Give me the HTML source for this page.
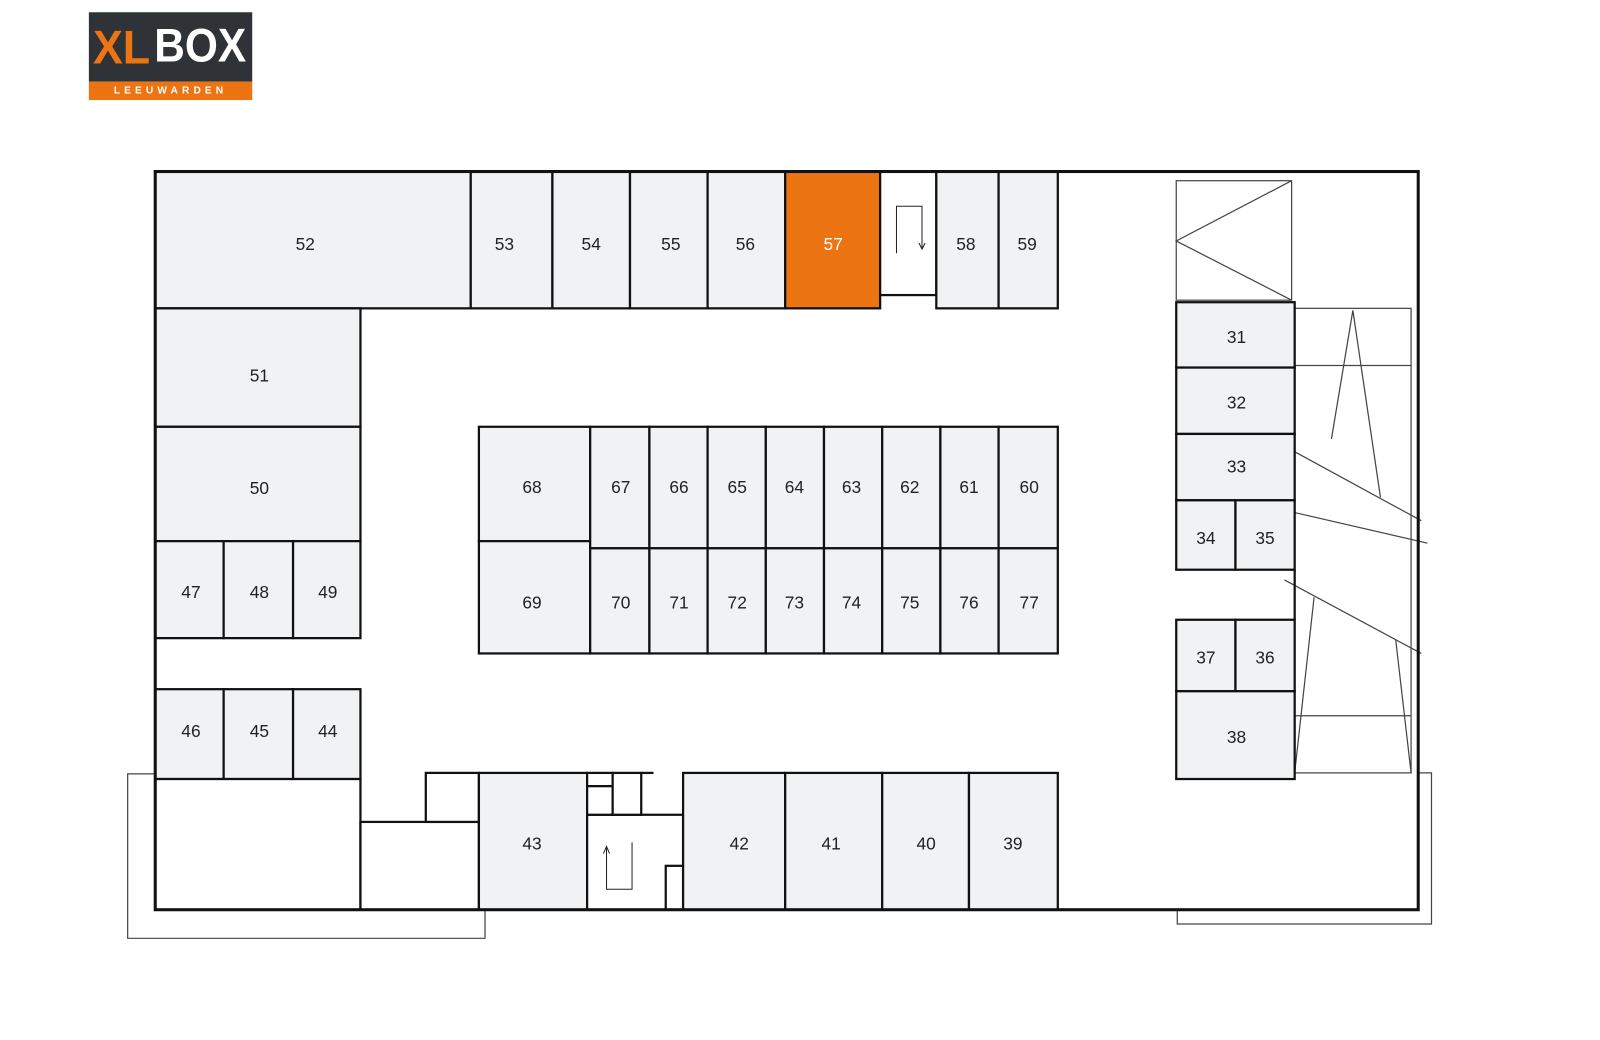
<!DOCTYPE html>
<html><head><meta charset="utf-8"><style>
html,body{margin:0;padding:0;background:#fff;width:1600px;height:1040px;overflow:hidden}
text{font-family:"Liberation Sans",sans-serif;font-size:17px;fill:#222;text-anchor:middle;dominant-baseline:central}
</style></head><body>
<svg width="1600" height="1040" viewBox="0 0 1567 1018.6" xmlns="http://www.w3.org/2000/svg">
<!-- logo -->
<rect x="87" y="12" width="160" height="68" fill="#2f3337"/>
<rect x="87" y="80" width="160" height="18" fill="#ec7412"/>
<text x="119" y="46" textLength="56" lengthAdjust="spacingAndGlyphs" style="font-size:46px;font-weight:bold;fill:#ec7412">XL</text>
<text x="196" y="44" textLength="90" lengthAdjust="spacingAndGlyphs" style="font-size:46px;font-weight:bold;fill:#fff">BOX</text>
<text x="167" y="89" style="font-size:10px;font-weight:bold;fill:#fff;letter-spacing:4px">LEEUWARDEN</text>

<g fill="none" stroke="#444" stroke-width="1.2">
<polyline points="152,758 125,758 125,919 475,919 475,891"/>
<polyline points="1389,757 1402,757 1402,905 1153,905 1153,891"/>
<rect x="1152" y="177" width="113" height="117"/>
<polyline points="1265,177 1152,236 1265,294"/>
<rect x="1268" y="302" width="114" height="455"/>
<line x1="1268" y1="358" x2="1382" y2="358"/>
<line x1="1268" y1="701" x2="1382" y2="701"/>
<polyline points="1304,430 1325,304 1352,487"/>
<line x1="1258" y1="437" x2="1392" y2="510"/>
<line x1="1268" y1="502" x2="1398" y2="532"/>
<line x1="1258" y1="568" x2="1392" y2="640"/>
<line x1="1287" y1="585" x2="1268" y2="757"/>
<line x1="1367" y1="627" x2="1382" y2="757"/>
</g>

<g stroke="#111" stroke-width="2.2" fill="#f1f2f3">
<rect x="152" y="168" width="309" height="134"/>
<rect x="461" y="168" width="80" height="134"/>
<rect x="541" y="168" width="76" height="134"/>
<rect x="617" y="168" width="76" height="134"/>
<rect x="693" y="168" width="76" height="134"/>
<rect x="769" y="168" width="93" height="134" fill="#ec7412"/>
<rect x="862" y="168" width="55" height="121" fill="#fff"/>
<rect x="917" y="168" width="61" height="134"/>
<rect x="978" y="168" width="58" height="134"/>
<rect x="152" y="302" width="201" height="116"/>
<rect x="152" y="418" width="201" height="112"/>
<rect x="152" y="530" width="67" height="95"/>
<rect x="219" y="530" width="68" height="95"/>
<rect x="287" y="530" width="66" height="95"/>
<rect x="152" y="675" width="67" height="88"/>
<rect x="219" y="675" width="68" height="88"/>
<rect x="287" y="675" width="66" height="88"/>
<rect x="152" y="763" width="201" height="128" fill="#fff"/>
<rect x="469" y="418" width="109" height="112"/>
<rect x="469" y="530" width="109" height="110"/>
<rect x="578" y="418" width="58" height="119"/><rect x="636" y="418" width="57" height="119"/>
<rect x="693" y="418" width="57" height="119"/><rect x="750" y="418" width="57" height="119"/>
<rect x="807" y="418" width="57" height="119"/><rect x="864" y="418" width="57" height="119"/>
<rect x="921" y="418" width="57" height="119"/><rect x="978" y="418" width="58" height="119"/>
<rect x="578" y="537" width="58" height="103"/><rect x="636" y="537" width="57" height="103"/>
<rect x="693" y="537" width="57" height="103"/><rect x="750" y="537" width="57" height="103"/>
<rect x="807" y="537" width="57" height="103"/><rect x="864" y="537" width="57" height="103"/>
<rect x="921" y="537" width="57" height="103"/><rect x="978" y="537" width="58" height="103"/>
<rect x="353" y="805" width="116" height="86" fill="#fff"/>
<rect x="417" y="757" width="52" height="48" fill="#fff"/>
<rect x="469" y="757" width="106" height="134"/>
<rect x="575" y="798" width="94" height="93" fill="#fff"/>
<rect x="575" y="757" width="25" height="13" fill="#fff"/>
<rect x="575" y="770" width="25" height="28" fill="#fff"/>
<rect x="600" y="757" width="28" height="41" fill="#fff"/>
<line x1="628" y1="757" x2="640" y2="757"/>
<rect x="652" y="848" width="17" height="43" fill="#fff"/>
<rect x="669" y="757" width="100" height="134"/>
<rect x="769" y="757" width="95" height="134"/>
<rect x="864" y="757" width="85" height="134"/>
<rect x="949" y="757" width="87" height="134"/>
<rect x="1152" y="296" width="116" height="64"/>
<rect x="1152" y="360" width="116" height="65"/>
<rect x="1152" y="425" width="116" height="65"/>
<rect x="1152" y="490" width="58" height="68"/>
<rect x="1210" y="490" width="58" height="68"/>
<rect x="1152" y="607" width="58" height="70"/>
<rect x="1210" y="607" width="58" height="70"/>
<rect x="1152" y="677" width="116" height="86"/>
<line x1="1268" y1="558" x2="1268" y2="607"/>
<rect x="152" y="168" width="1237" height="723" fill="none" stroke-width="3"/>
</g>
<g fill="none" stroke="#222" stroke-width="1">
<polyline points="878,248 878,202 903,202 903,243"/>
<polyline points="900,238 903,244 906,238"/>
<polyline points="594,830 594,871 619,871 619,825"/>
<polyline points="591,836 594,829 597,836"/>
</g>
<g>
<text x="299" y="239">52</text><text x="494" y="239">53</text><text x="579" y="239">54</text>
<text x="657" y="239">55</text><text x="730" y="239">56</text><text x="816" y="239" style="fill:#fff">57</text>
<text x="946" y="239">58</text><text x="1006" y="239">59</text>
<text x="254" y="368">51</text><text x="254" y="478">50</text>
<text x="187" y="580">47</text><text x="254" y="580">48</text><text x="321" y="580">49</text>
<text x="187" y="716">46</text><text x="254" y="716">45</text><text x="321" y="716">44</text>
<text x="521" y="477">68</text><text x="521" y="590">69</text>
<text x="608" y="477">67</text><text x="665" y="477">66</text><text x="722" y="477">65</text><text x="778" y="477">64</text>
<text x="834" y="477">63</text><text x="891" y="477">62</text><text x="949" y="477">61</text><text x="1008" y="477">60</text>
<text x="608" y="590">70</text><text x="665" y="590">71</text><text x="722" y="590">72</text><text x="778" y="590">73</text>
<text x="834" y="590">74</text><text x="891" y="590">75</text><text x="949" y="590">76</text><text x="1008" y="590">77</text>
<text x="521" y="826">43</text><text x="724" y="826">42</text><text x="814" y="826">41</text>
<text x="907" y="826">40</text><text x="992" y="826">39</text>
<text x="1211" y="330">31</text><text x="1211" y="394">32</text><text x="1211" y="457">33</text>
<text x="1181" y="527">34</text><text x="1239" y="527">35</text>
<text x="1181" y="644">37</text><text x="1239" y="644">36</text><text x="1211" y="722">38</text>
</g>
</svg>
</body></html>
